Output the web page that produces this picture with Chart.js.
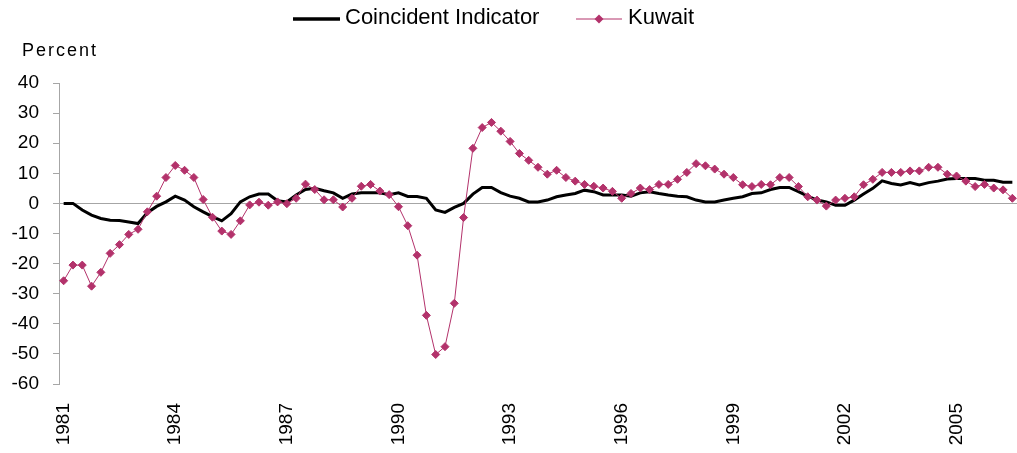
<!DOCTYPE html>
<html lang="en">
<head>
    <meta charset="UTF-8">
    <title>Coincident Indicator vs Kuwait</title>
    <style>
        body {
            margin: 0;
            background: #fff;
        }
        .chart-box {
            width: 1017px;
            height: 453px;
            position: relative;
        }
    </style>
    <script src="https://cdn.jsdelivr.net/npm/chart.js"></script>
</head>
<body>
    <div class="chart-box">
        <canvas id="kuwaitChart"></canvas>
    </div>

    <script>
        // quarterly series, 1981 Q1 onward
        var startYear = 1981;
        var quarterCount = 103;
        var yearStep = 12; // label every 3 years

        var seriesNames = ['Coincident Indicator', 'Kuwait'];

        var coincident = [
            0, 0, -2.2, -3.9, -5.0, -5.6, -5.7, -6.2, -6.7, -3.1,
            -1.0, 0.5, 2.4, 1.1, -1.1, -2.8, -4.4, -5.8, -3.4, 0.5,
            2.2, 3.1, 3.1, 0.9, 0.5, 2.8, 4.6, 5.0, 4.2, 3.5,
            1.7, 3.1, 3.5, 3.5, 3.5, 2.9, 3.5, 2.3, 2.3, 1.7,
            -2.2, -3.0, -1.3, 0, 3.1, 5.3, 5.3, 3.6, 2.4, 1.7,
            0.5, 0.5, 1.1, 2.2, 2.8, 3.3, 4.4, 3.9, 2.8, 2.8,
            2.8, 2.4, 3.5, 3.9, 3.3, 2.8, 2.4, 2.2, 1.1, 0.5,
            0.5, 1.1, 1.7, 2.2, 3.3, 3.5, 4.6, 5.3, 5.3, 3.9,
            2.4, 1.1, 0.5, -0.6, -0.6, 1.1, 3.1, 5.0, 7.5, 6.6,
            6.1, 6.9, 6.1, 6.9, 7.4, 8.1, 8.3, 8.3, 8.3, 7.7,
            7.7, 7.0, 7.0
        ];

        var kuwait = [
            -25.7, -20.5, -20.5, -27.5, -22.9, -16.6, -13.7, -10.3, -8.6, -2.8,
            2.4, 8.6, 12.6, 11.0, 8.6, 1.3, -4.6, -9.2, -10.3, -5.8,
            -0.5, 0.4, -0.6, 0.5, -0.1, 1.7, 6.4, 4.6, 1.2, 1.2,
            -1.2, 1.7, 5.7, 6.3, 4.1, 2.9, -1.1, -7.4, -17.2, -37.2,
            -50.2, -47.6, -33.2, -4.7, 18.3, 25.2, 26.9, 24.0, 20.6, 16.6,
            14.3, 12.0, 9.7, 11.0, 8.6, 7.4, 6.3, 5.7, 5.1, 4.0,
            1.7, 3.3, 5.1, 4.6, 6.3, 6.3, 8.0, 10.3, 13.2, 12.5,
            11.4, 9.7, 8.6, 6.2, 5.6, 6.3, 6.2, 8.6, 8.6, 5.6,
            2.2, 1.1, -0.9, 1.1, 1.7, 2.2, 6.2, 8.0, 10.3, 10.3,
            10.3, 10.8, 10.8, 12.0, 12.0, 9.7, 9.1, 7.4, 5.6, 6.3,
            5.1, 4.5, 1.7
        ];

        var yMin = -60, yMax = 40, yStep = 10;

        var quarters = [];
        for (var i = 0; i < quarterCount; i++) {
            quarters.push((startYear + Math.floor(i / 4)) + 'Q' + (i % 4 + 1));
        }

        var fontFamily = '"Liberation Sans", Arial, sans-serif';
        var axisGray = '#a6a6a6';
        var kuwaitColor = '#b3326b';

        // legend and "Percent" drawn on top of the canvas
        var headerPlugin = {
            id: 'header',
            afterDraw: function (chart) {
                var ctx = chart.ctx;
                ctx.save();
                ctx.fillStyle = '#000';
                ctx.textBaseline = 'alphabetic';
                ctx.textAlign = 'left';

                ctx.font = '18px ' + fontFamily;
                if ('letterSpacing' in ctx) ctx.letterSpacing = '2px';
                ctx.fillText('Percent', 22, 56);
                if ('letterSpacing' in ctx) ctx.letterSpacing = '0px';

                ctx.font = '22px ' + fontFamily;
                var x = 293, lineY = 19, textY = 24;

                ctx.strokeStyle = '#000';
                ctx.lineWidth = 3.5;
                ctx.beginPath();
                ctx.moveTo(x, lineY);
                ctx.lineTo(x + 47, lineY);
                ctx.stroke();
                ctx.fillText(seriesNames[0], x + 52, textY);

                x = 576;
                ctx.strokeStyle = kuwaitColor;
                ctx.lineWidth = 1;
                ctx.beginPath();
                ctx.moveTo(x, lineY);
                ctx.lineTo(x + 46, lineY);
                ctx.stroke();
                ctx.fillStyle = kuwaitColor;
                ctx.beginPath();
                ctx.moveTo(x + 23, lineY - 4.5);
                ctx.lineTo(x + 27.5, lineY);
                ctx.lineTo(x + 23, lineY + 4.5);
                ctx.lineTo(x + 18.5, lineY);
                ctx.closePath();
                ctx.fill();
                ctx.fillStyle = '#000';
                ctx.fillText(seriesNames[1], x + 52, textY);
                ctx.restore();
            }
        };

        var ctx = document.getElementById('kuwaitChart').getContext('2d');
        var kuwaitChart = new Chart(ctx, {
            type: 'line',
            data: {
                labels: quarters,
                datasets: [{
                    label: seriesNames[0],
                    data: coincident,
                    borderColor: '#000',
                    borderWidth: 3,
                    pointRadius: 0,
                    tension: 0,
                    order: 1
                }, {
                    label: seriesNames[1],
                    data: kuwait,
                    borderColor: kuwaitColor,
                    backgroundColor: kuwaitColor,
                    borderWidth: 1,
                    pointStyle: 'rectRot',
                    pointRadius: 4,
                    pointBorderWidth: 1,
                    pointBorderColor: kuwaitColor,
                    pointBackgroundColor: kuwaitColor,
                    tension: 0,
                    order: 0
                }]
            },
            options: {
                responsive: true,
                maintainAspectRatio: false,
                animation: false,
                layout: {
                    autoPadding: false,
                    padding: { top: 83, left: 0, right: 0, bottom: 0 }
                },
                plugins: {
                    legend: { display: false },
                    tooltip: { enabled: false }
                },
                scales: {
                    x: {
                        offset: true,
                        grid: { display: false, drawTicks: false },
                        border: { display: false },
                        ticks: {
                            autoSkip: false,
                            minRotation: 90,
                            maxRotation: 90,
                            padding: 19,
                            color: '#000',
                            font: { family: fontFamily, size: 19 },
                            callback: function (val, i) {
                                return i % yearStep === 0 ? quarters[i].slice(0, 4) : '';
                            }
                        },
                        afterFit: function (scale) {
                            scale.height = 69;
                            scale.paddingLeft = 0;
                            scale.paddingRight = 0;
                        }
                    },
                    y: {
                        min: yMin,
                        max: yMax,
                        grid: {
                            color: function (c) {
                                return c.tick && c.tick.value === 0 ? axisGray : 'rgba(0,0,0,0)';
                            },
                            tickColor: axisGray,
                            tickLength: 6,
                            lineWidth: 1
                        },
                        border: { display: true, color: axisGray, width: 1 },
                        ticks: {
                            stepSize: yStep,
                            padding: 14,
                            color: '#000',
                            font: { family: fontFamily, size: 19 }
                        },
                        afterFit: function (scale) { scale.width = 59; }
                    }
                }
            },
            plugins: [headerPlugin]
        });
    </script>
</body>
</html>
